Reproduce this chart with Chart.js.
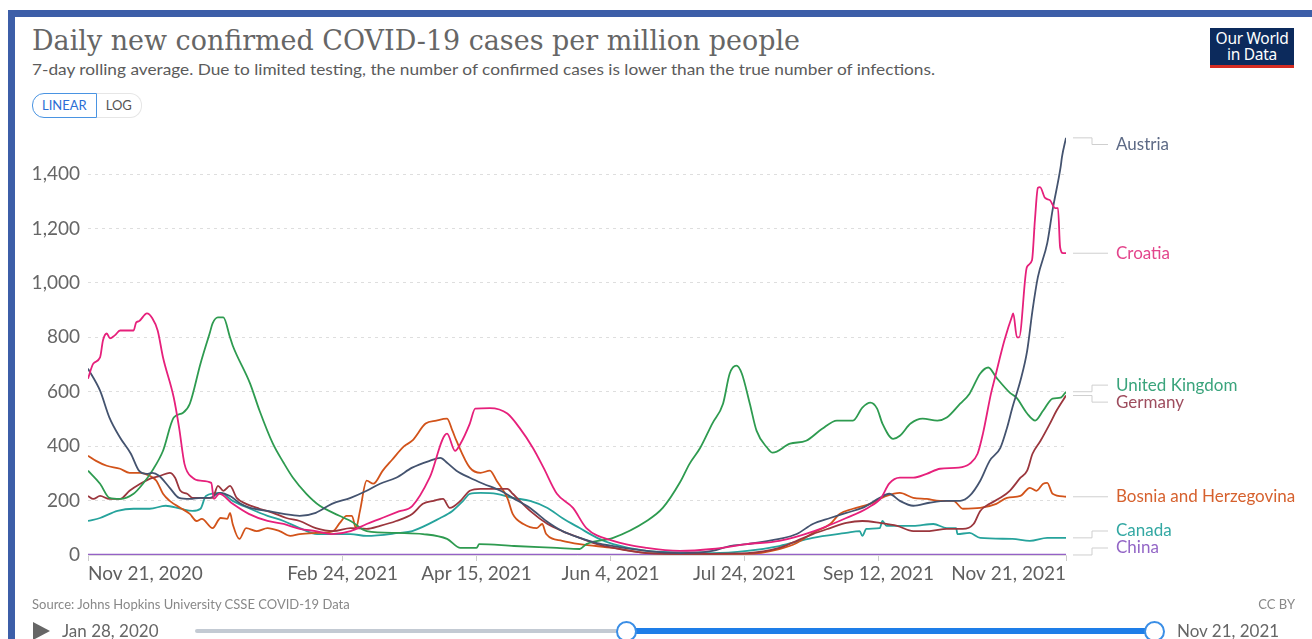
<!DOCTYPE html>
<html>
<head>
<meta charset="utf-8">
<script src="https://cdn.jsdelivr.net/npm/chart.js@4.4.0/dist/chart.umd.min.js"></script>
<style>
html, body { margin: 0; padding: 0; background: #fff; overflow: hidden; }
body { width: 1312px; height: 639px; position: relative; font-family: Lato, "Noto Sans", sans-serif; }
#frameTop { position: absolute; left: 8px; top: 10px; width: 1304px; height: 7px; background: #3c5ea8; }
#frameLeft { position: absolute; left: 8px; top: 10px; width: 7px; height: 629px; background: #3c5ea8; }
#title { position: absolute; left: 32px; top: 24px; font-family: "DejaVu Serif", serif; font-size: 28px; line-height: 34px; color: #666; white-space: nowrap; transform-origin: 0 0; }
#subtitle { position: absolute; left: 32px; top: 60px; font-size: 15px; line-height: 18px; color: #5b5b5b; white-space: nowrap; transform-origin: 0 0; }
#btns { position: absolute; left: 32px; top: 93px; height: 25px; display: flex; font-size: 13px; }
#btns div { height: 23px; line-height: 23px; padding: 0 9px; }
#lin { border: 1px solid #4a94e2; border-radius: 12px 0 0 12px; color: #2b6ed6; }
#log { border: 1px solid #e6e6e6; border-left: none; border-radius: 0 12px 12px 0; color: #555; }
#logo { position: absolute; left: 1210px; top: 28px; width: 84px; height: 35px; background: #0c2a5c; border-bottom: 3px solid #d42b21; color: #fff; font-family: "Noto Sans", sans-serif; font-size: 15.5px; line-height: 16px; text-align: center; padding-top: 2px; box-sizing: content-box; letter-spacing: -0.3px; }
#chartBox { position: absolute; left: 0; top: 0; width: 1312px; height: 600px; }
#source { position: absolute; left: 32px; top: 596px; font-size: 13px; color: #888; white-space: nowrap; }
#ccby { position: absolute; right: 17px; top: 596px; font-size: 13px; color: #888; }
#play { position: absolute; left: 33px; top: 622px; width: 0; height: 0; border-left: 17px solid #666; border-top: 9px solid transparent; border-bottom: 9px solid transparent; }
#startDate { position: absolute; left: 62px; top: 620px; font-size: 17px; color: #666; white-space: nowrap; }
#endDate { position: absolute; left: 1177px; top: 620px; font-size: 17px; color: #666; white-space: nowrap; }
#trackGrey { position: absolute; left: 195px; top: 629px; width: 432px; height: 4px; background: #c3cad3; border-radius: 2px; }
#trackBlue { position: absolute; left: 626px; top: 628px; width: 528px; height: 6px; background: #1e7ee8; }
.handle { position: absolute; top: 621px; width: 17px; height: 17px; border: 2px solid #3a8ee6; border-radius: 50%; background: #fff; }
</style>
</head>
<body>
<div id="frameTop"></div>
<div id="frameLeft"></div>
<div id="title">Daily new confirmed COVID-19 cases per million people</div>
<div id="subtitle">7-day rolling average. Due to limited testing, the number of confirmed cases is lower than the true number of infections.</div>
<div id="btns"><div id="lin">LINEAR</div><div id="log">LOG</div></div>
<div id="logo">Our World<br>in Data</div>
<div id="chartBox"><canvas id="chart"></canvas></div>
<div id="source">Source: Johns Hopkins University CSSE COVID-19 Data</div>
<div id="ccby">CC BY</div>
<div id="play"></div>
<div id="startDate">Jan 28, 2020</div>
<div id="trackGrey"></div>
<div id="trackBlue"></div>
<div class="handle" style="left:616px"></div>
<div class="handle" style="left:1144px"></div>
<div id="endDate">Nov 21, 2021</div>

<script>
// x values are days since Nov 21, 2020
const xTickDays = [0, 95, 145, 195, 245, 295, 365];
const xTickLabels = ['Nov 21, 2020', 'Feb 24, 2021', 'Apr 15, 2021', 'Jun 4, 2021', 'Jul 24, 2021', 'Sep 12, 2021', 'Nov 21, 2021'];
const yTicks = [0, 200, 400, 600, 800, 1000, 1200, 1400];

const countries = ['Croatia', 'Austria', 'United Kingdom', 'Germany', 'Bosnia and Herzegovina', 'Canada', 'China'];
const lineColors = ['#e6207b', '#44536f', '#2e9b50', '#9b363d', '#d2531a', '#26a39c', '#9561c6'];
const labelColors = ['#e3458c', '#5d6a86', '#3aa47c', '#9e4d5e', '#d6612e', '#33a8a3', '#9366c6'];

const croatia = [[0,648],[2,704],[4.5,726],[5.6,789],[7,814],[8.2,796],[10,807],[12,825],[17,825],[18,855],[19,859],[22,888],[24,870],[26,825],[28,726],[32,579],[34,468],[36,335],[39,284],[42,273],[46,265],[47,206],[49,225],[54,188],[60,151],[67,125],[73,114],[79,96],[85,88],[91,77],[98,88],[104,114],[109,133],[116,160],[121,180],[127.5,284],[134,446],[137,383],[139,409],[142.5,483],[144.5,538],[150,540],[156.5,520],[161,468],[166,394],[170,321],[175,225],[181,173],[186,99],[196,52],[208.5,26],[221,15],[233,22],[246,40],[258,52],[271,88],[283,136],[291,173],[296,210],[299,262],[303,284],[308,284],[313,298],[318,317],[325,321],[329,335],[332,372],[334,446],[337,593],[338.5,652],[342,788],[345,881],[345.3,888],[346.7,800],[347.5,800],[350.4,1058],[352.3,1083],[353.4,1231],[354.5,1349],[355.3,1352],[357.2,1312],[359,1304],[360.9,1275],[362,1275],[362.8,1131],[363.9,1109],[365,1109]];
const austria = [[0,685],[4.5,604],[8,505],[12,431],[16,372],[19,310],[22,298],[24,302],[26.5,291],[30.5,247],[34,210],[38,206],[42,210],[45.5,210],[49,228],[53,217],[57,188],[60.5,173],[67,162],[73,151],[79,144],[85,155],[91,188],[98,210],[104,236],[109,262],[115,284],[121,321],[127.5,346],[131.5,357],[134,339],[137.5,310],[142.5,284],[147.5,262],[154,236],[158.5,210],[165,173],[171,125],[177,88],[183.5,63],[190,44],[196,33],[208.5,15],[221,7],[233,15],[239.5,33],[246,40],[258,59],[264.5,77],[270.5,114],[277,136],[283,155],[289,173],[295.5,210],[299,225],[303,199],[308,181],[314,192],[320.5,199],[325.5,199],[329,217],[333,273],[336.5,346],[340.5,394],[343,468],[345,542],[348,641],[350.5,750],[352.5,899],[354.5,1021],[358,1146],[360,1268],[363,1426],[363.5,1463],[365,1533]];
const unitedKingdom = [[0,310],[4.5,262],[8,210],[12,206],[17,225],[20.5,262],[24,310],[28,383],[32,505],[35.5,523],[38,556],[42,704],[45.5,818],[46.5,851],[48.5,873],[50.5,873],[53,800],[54,770],[60.5,630],[64,531],[69,409],[73,339],[76.5,284],[81.5,225],[86.5,181],[91.5,155],[98,125],[104,88],[116,81],[125,77],[134,59],[139,26],[145,26],[146,40],[159,33],[175,26],[183.5,22],[186,40],[196,63],[208.5,125],[214.5,173],[221,268],[224.5,335],[228.5,394],[233,483],[237,556],[239.5,667],[242,696],[244,667],[247,556],[249.5,457],[253.5,394],[255.5,376],[262,409],[268,420],[274,464],[279.5,494],[285.5,494],[289,542],[292,560],[294.5,538],[296.5,483],[300.5,427],[303,438],[307,483],[311.5,501],[317,494],[320.5,505],[325.5,556],[329,593],[333,667],[336,689],[339,652],[344,597],[346.5,578],[350.5,520],[353.5,494],[356.5,531],[360,575],[363,578],[365,600]];
const germany = [[0,217],[2,206],[4.5,217],[8,206],[12,206],[15.5,236],[19.5,262],[23,280],[27,291],[30.5,302],[32.5,284],[34.5,236],[37,225],[39,210],[43,210],[46.5,210],[48.5,254],[50.5,236],[53,254],[55.5,210],[59,188],[64,170],[69,155],[74,136],[79,125],[85,99],[91.5,88],[98,99],[104,96],[109,107],[115,125],[121,151],[125,188],[129,199],[132.5,206],[135,173],[139,199],[142.5,236],[146.5,243],[152.5,243],[156.5,243],[158.5,225],[165,162],[171.5,114],[177,88],[183.5,63],[190,40],[196,26],[208.5,7],[221,4],[246,7],[258,26],[264.5,52],[270.5,77],[277,99],[283,118],[289,125],[295.5,118],[302,107],[308,88],[314,88],[320.5,96],[326.5,96],[330.5,114],[333,162],[336.5,188],[340.5,210],[344,236],[348,284],[350.5,310],[352.5,372],[355.5,420],[359,483],[361.5,531],[365,586]];
const bosnia = [[0,365],[3,346],[7,328],[12,317],[15.5,302],[19.5,302],[23,291],[25.5,273],[28,225],[30.5,199],[34.5,173],[38,151],[40.5,125],[42.5,133],[46.5,99],[49.5,136],[52,133],[53,155],[54,114],[56.5,59],[59,99],[63,88],[67,99],[71.5,88],[75.5,70],[79,77],[85,81],[91.5,88],[94,118],[96.5,144],[98.5,144],[100,99],[101.5,162],[104,273],[106.5,262],[110,310],[113.5,350],[118,400],[121,420],[126,483],[130,494],[134,501],[136,457],[137.5,420],[142.5,321],[146.5,302],[150,310],[152.5,273],[156.5,210],[158.5,151],[162.5,114],[167.5,99],[169.5,114],[171,77],[177,52],[183.5,40],[196,26],[208.5,7],[221,4],[246,4],[258,22],[264.5,44],[270.5,81],[277,114],[280.5,151],[285.5,170],[292,188],[298,217],[303,228],[308,210],[313,206],[318,199],[323,199],[326.5,170],[333,173],[339,188],[343,210],[348,217],[351.5,247],[354,236],[356.5,262],[358,265],[360,225],[365,214]];
const canada = [[0,125],[4.5,136],[11,162],[17,170],[23,170],[29,181],[34.5,170],[39,162],[42,170],[44,217],[49.5,228],[54,199],[60.5,170],[67,144],[73,125],[79,99],[85.5,77],[91.5,77],[98,77],[104,70],[116,81],[121,88],[131.5,136],[136,162],[140,199],[142.5,225],[146.5,228],[152.5,225],[158.5,210],[165,199],[171.5,173],[177,136],[183.5,99],[190,63],[196,40],[208.5,15],[221,10],[233,7],[246,15],[258,33],[270.5,63],[283,81],[288,88],[289,70],[290.5,96],[295.5,99],[296.5,125],[298,107],[308,107],[315.5,114],[320.5,99],[324,99],[324.5,77],[329,81],[333,63],[345,59],[351.5,52],[358,63],[365,63]];
const china = [[0,0.3],[60,0.2],[120,0.1],[180,0.1],[240,0.1],[300,0.1],[365,0.1]];

const seriesData = [croatia, austria, unitedKingdom, germany, bosnia, canada, china];

// fit title/subtitle widths to the reference
function fitWidth(id, w) {
    const el = document.getElementById(id);
    const r = el.getBoundingClientRect().width;
    el.style.transform = 'scaleX(' + (w / r) + ')';
}
fitWidth('title', 768);
fitWidth('subtitle', 903);

// labels at the right end of each line, with connector lines
const endLabels = {
    id: 'endLabels',
    afterDatasetsDraw(chart) {
        const { ctx, chartArea, scales } = chart;
        const gap = 17;
        const items = chart.data.datasets.map((ds, i) => {
            const last = ds.data[ds.data.length - 1];
            return { name: ds.label, color: labelColors[i], y0: scales.y.getPixelForValue(last.y) };
        }).sort((a, b) => a.y0 - b.y0);

        // group overlapping labels and centre each group on its targets
        let groups = items.map(it => ({ items: [it] }));
        const place = g => {
            const mean = g.items.reduce((s, it) => s + it.y0, 0) / g.items.length;
            g.top = mean - (g.items.length - 1) * gap / 2;
        };
        groups.forEach(place);
        let merged = true;
        while (merged) {
            merged = false;
            for (let i = 0; i < groups.length - 1; i++) {
                const a = groups[i], b = groups[i + 1];
                if (a.top + a.items.length * gap > b.top) {
                    a.items = a.items.concat(b.items);
                    groups.splice(i + 1, 1);
                    place(a);
                    merged = true;
                    break;
                }
            }
        }
        const placed = [];
        groups.forEach(g => g.items.forEach((it, k) => { it.y = g.top + k * gap; placed.push(it); }));

        const minY = chartArea.top + 14, maxY = chartArea.bottom - 7;
        for (let i = placed.length - 1; i >= 0; i--) {
            const lim = i === placed.length - 1 ? maxY : placed[i + 1].y - gap;
            placed[i].y = Math.min(placed[i].y, lim);
        }
        for (let i = 0; i < placed.length; i++) {
            const lim = i === 0 ? minY : placed[i - 1].y + gap;
            placed[i].y = Math.max(placed[i].y, lim);
        }

        const r = chartArea.right;
        ctx.save();
        ctx.lineWidth = 1;
        ctx.strokeStyle = '#cfcfcf';
        ctx.font = '17px Lato';
        ctx.textBaseline = 'middle';
        placed.forEach(it => {
            ctx.beginPath();
            ctx.moveTo(r + 7, it.y0);
            ctx.lineTo(r + 26, it.y0);
            ctx.lineTo(r + 26, it.y);
            ctx.lineTo(r + 42, it.y);
            ctx.stroke();
            ctx.fillStyle = it.color;
            ctx.fillText(it.name, r + 50, it.y);
        });
        ctx.restore();
    }
};

const datasets = countries.map((name, i) => ({
    label: name,
    data: seriesData[i].map(p => ({ x: p[0], y: p[1] })),
    borderColor: lineColors[i],
    backgroundColor: lineColors[i],
    borderWidth: i === 6 ? 2.2 : 1.8,
    pointRadius: 0,
    cubicInterpolationMode: 'monotone',
    fill: false
}));

new Chart(document.getElementById('chart').getContext('2d'), {
    type: 'line',
    data: { datasets: datasets },
    options: {
        responsive: true,
        maintainAspectRatio: false,
        animation: false,
        layout: { padding: { left: 0, right: 246, top: 130.5, bottom: 15 } },
        plugins: { legend: { display: false }, tooltip: { enabled: false } },
        scales: {
            x: {
                type: 'linear',
                min: 0,
                max: 365,
                afterBuildTicks: scale => { scale.ticks = xTickDays.map(v => ({ value: v })); },
                afterFit: scale => { scale.height = 30; },
                ticks: {
                    align: 'inner',
                    maxRotation: 0,
                    autoSkip: false,
                    padding: 1,
                    color: '#5f5f5f',
                    font: { family: 'Lato', size: 19 },
                    callback: (v, i) => xTickLabels[i]
                },
                grid: { drawOnChartArea: false, drawTicks: true, tickLength: 6, color: '#cccccc' },
                border: { display: true, color: '#dddddd' }
            },
            y: {
                min: 0,
                max: 1560,
                afterBuildTicks: scale => { scale.ticks = yTicks.map(v => ({ value: v })); },
                afterFit: scale => { scale.width = 88; },
                ticks: {
                    padding: 8,
                    color: '#666666',
                    font: { family: 'Lato', size: 19 },
                    callback: v => v.toLocaleString('en-US')
                },
                grid: { color: '#dedede', drawTicks: false, lineWidth: 1 },
                border: { display: false, dash: [3, 4] }
            }
        }
    },
    plugins: [endLabels]
});
</script>
</body>
</html>
